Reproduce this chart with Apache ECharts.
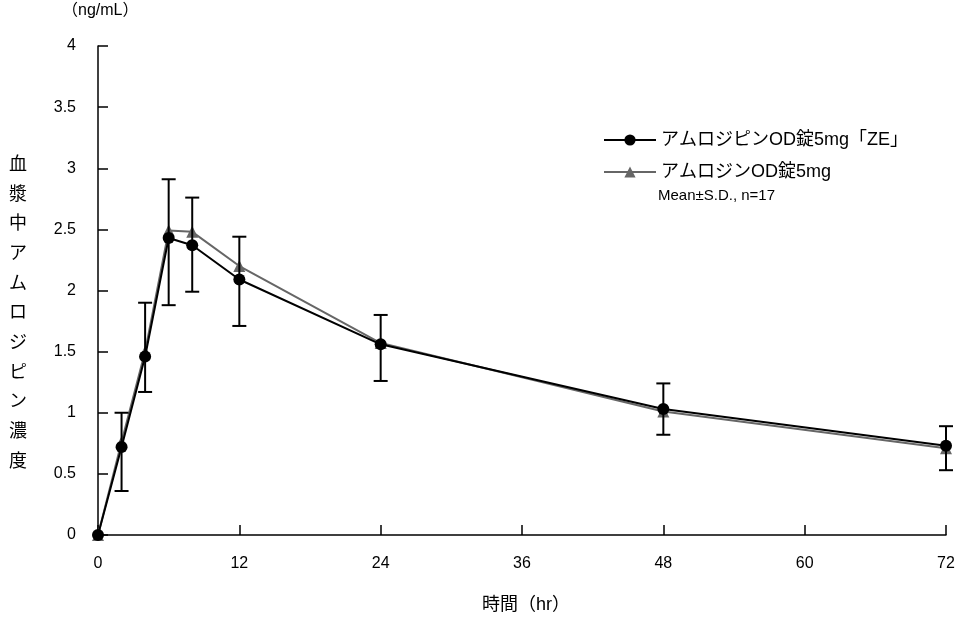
<!DOCTYPE html>
<html>
<head>
<meta charset="utf-8">
<script src="https://cdn.jsdelivr.net/npm/echarts@6/dist/echarts.min.js"></script>
<style>
  html, body { margin: 0; padding: 0; background: #fff; }
  #main { width: 970px; height: 621px; }
</style>
</head>
<body>
<div id="main"></div>
<script>
// time points (hr)
var times = [0, 2, 4, 6, 8, 12, 24, 48, 72];
// アムロジピンOD錠5mg「ZE」 mean
var zeMean = [0, 0.72, 1.46, 2.43, 2.37, 2.09, 1.56, 1.03, 0.73];
// error bar ends (mean ± S.D.) for ZE
var zeHigh = [null, 1.00, 1.90, 2.91, 2.76, 2.44, 1.80, 1.24, 0.89];
var zeLow = [null, 0.36, 1.17, 1.88, 1.99, 1.71, 1.26, 0.82, 0.53];
// アムロジンOD錠5mg mean
var refMean = [0, 0.76, 1.50, 2.49, 2.48, 2.20, 1.57, 1.01, 0.71];

var xTicks = [0, 12, 24, 36, 48, 60, 72];
var yTicks = [0, 0.5, 1, 1.5, 2, 2.5, 3, 3.5, 4];

var nameZE = 'アムロジピンOD錠5mg「ZE」';
var nameRef = 'アムロジンOD錠5mg';
var FONT = '"Liberation Sans", "Noto Sans CJK JP", sans-serif';

var chart = echarts.init(document.getElementById('main'));

var errData = [];
times.forEach(function (t, i) {
  if (zeHigh[i] != null) errData.push([t, zeLow[i], zeHigh[i]]);
});

chart.setOption({
  backgroundColor: '#fff',
  animation: false,
  textStyle: { fontFamily: FONT },
  grid: { left: 98, right: 24, top: 46, bottom: 86 },
  legend: {
    orient: 'vertical',
    left: 598,
    top: 126,
    itemWidth: 52,
    itemHeight: 14,
    itemGap: 14,
    textStyle: { fontSize: 18, color: '#000', fontFamily: FONT },
    data: [nameZE, nameRef]
  },
  xAxis: {
    type: 'value',
    min: 0,
    max: 72,
    interval: 12,
    axisLine: { lineStyle: { color: '#000', width: 1.5 } },
    axisTick: { inside: true, length: 10, lineStyle: { color: '#000', width: 1.5 } },
    axisLabel: {
      margin: 21, fontSize: 16, color: '#000', fontFamily: FONT,
      formatter: function (v) { return xTicks.indexOf(v) >= 0 ? v : ''; }
    },
    splitLine: { show: false }
  },
  yAxis: {
    type: 'value',
    min: 0,
    max: 4,
    interval: 0.5,
    axisLine: { show: true, lineStyle: { color: '#000', width: 1.5 } },
    axisTick: { show: true, inside: true, length: 10, lineStyle: { color: '#000', width: 1.5 } },
    axisLabel: {
      margin: 22, fontSize: 16, color: '#000', fontFamily: FONT,
      formatter: function (v) { return yTicks.indexOf(v) >= 0 ? String(v) : ''; }
    },
    splitLine: { show: false }
  },
  graphic: [
    {
      type: 'text', left: 62, top: 3,
      style: { text: '（ng/mL）', fontSize: 16, fill: '#000', fontFamily: FONT }
    },
    {
      type: 'text', left: 9, top: 150,
      style: {
        text: '血\n漿\n中\nア\nム\nロ\nジ\nピ\nン\n濃\n度',
        fontSize: 18, lineHeight: 29.7, fill: '#000', fontFamily: FONT
      }
    },
    {
      type: 'text', left: 482, top: 596,
      style: { text: '時間（hr）', fontSize: 18, fill: '#000', fontFamily: FONT }
    },
    {
      type: 'text', left: 658, top: 188,
      style: { text: 'Mean±S.D., n=17', fontSize: 15, fill: '#000', fontFamily: FONT }
    }
  ],
  series: [
    {
      name: nameRef,
      type: 'line',
      data: times.map(function (t, i) { return [t, refMean[i]]; }),
      symbol: 'triangle',
      symbolSize: 12,
      z: 2,
      lineStyle: { color: '#666', width: 2 },
      itemStyle: { color: '#666' }
    },
    {
      name: 'err',
      type: 'custom',
      data: errData,
      z: 3,
      renderItem: function (params, api) {
        var x = api.value(0);
        var lo = api.coord([x, api.value(1)]);
        var hi = api.coord([x, api.value(2)]);
        var hw = 7;
        var st = { stroke: '#000', lineWidth: 2 };
        return {
          type: 'group',
          children: [
            { type: 'line', shape: { x1: lo[0], y1: lo[1], x2: hi[0], y2: hi[1] }, style: st },
            { type: 'line', shape: { x1: hi[0] - hw, y1: hi[1], x2: hi[0] + hw, y2: hi[1] }, style: st },
            { type: 'line', shape: { x1: lo[0] - hw, y1: lo[1], x2: lo[0] + hw, y2: lo[1] }, style: st }
          ]
        };
      }
    },
    {
      name: nameZE,
      type: 'line',
      data: times.map(function (t, i) { return [t, zeMean[i]]; }),
      symbol: 'circle',
      symbolSize: 12,
      z: 4,
      lineStyle: { color: '#000', width: 2 },
      itemStyle: { color: '#000' }
    }
  ]
});
</script>
</body>
</html>
